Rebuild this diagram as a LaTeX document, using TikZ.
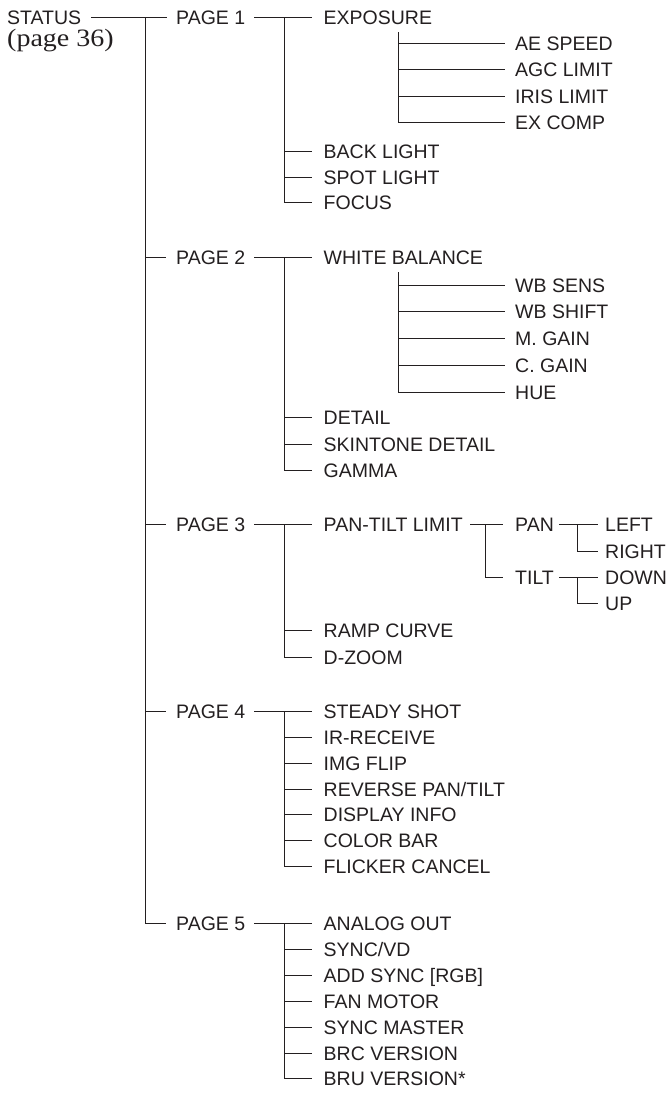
\documentclass[tikz,border=0pt]{standalone}
\usepackage{fontspec}
\setmainfont{Liberation Sans}
\newfontfamily\serifcap{Liberation Serif}
\definecolor{ink}{HTML}{231F20}
\begin{document}
\begin{tikzpicture}[x=1pt,y=-1pt,
  lbl/.style={anchor=west,inner sep=0pt,text height=14pt,text depth=0pt,
    text=ink,font=\fontsize{19.5}{19.5}\selectfont},
  conn/.style={line width=1pt,draw=ink}]
\useasboundingbox (0,0) rectangle (669,1099);
% ---------- nodes ----------
\node[lbl] (status) at (7,17.5) {STATUS};
\node[anchor=base west,inner sep=0pt,text height=17pt,text depth=5pt,text=ink,font=\serifcap\fontsize{25}{25}\selectfont] (pg) at (7,46.5) {\scalebox{1.12}[1]{(page 36)}};
\node[lbl] (p1) at (176,18) {PAGE 1};
\node[lbl] (p2) at (176,257) {PAGE 2};
\node[lbl] (p3) at (176,524.5) {PAGE 3};
\node[lbl] (p4) at (176,711.5) {PAGE 4};
\node[lbl] (p5) at (176,923.5) {PAGE 5};
% page 1
\node[lbl] (exp) at (323.5,18) {EXPOSURE};
\node[lbl] (ae) at (515,44) {AE SPEED};
\node[lbl] (agc) at (515,70) {AGC LIMIT};
\node[lbl] (iris) at (515,96.5) {IRIS LIMIT};
\node[lbl] (exc) at (515,123) {EX COMP};
\node[lbl] (bl) at (323.5,151.5) {BACK LIGHT};
\node[lbl] (sl) at (323.5,177.5) {SPOT LIGHT};
\node[lbl] (foc) at (323.5,203) {FOCUS};
% page 2
\node[lbl] (wb) at (323.5,257) {WHITE BALANCE};
\node[lbl] (wbs) at (515,285) {WB SENS};
\node[lbl] (wbsh) at (515,311) {WB SHIFT};
\node[lbl] (mg) at (515,338) {M. GAIN};
\node[lbl] (cg) at (515,365) {C. GAIN};
\node[lbl] (hue) at (515,392) {HUE};
\node[lbl] (det) at (323.5,417.5) {DETAIL};
\node[lbl] (skin) at (323.5,444) {SKINTONE DETAIL};
\node[lbl] (gam) at (323.5,470.5) {GAMMA};
% page 3
\node[lbl] (ptl) at (323.5,524.5) {PAN-TILT LIMIT};
\node[lbl] (pan) at (515,524.5) {PAN};
\node[lbl] (tilt) at (515,577.5) {TILT};
\node[lbl] (left) at (605,524.5) {LEFT};
\node[lbl] (right) at (605,551) {RIGHT};
\node[lbl] (down) at (605,577.5) {DOWN};
\node[lbl] (up) at (605,603.5) {UP};
\node[lbl] (ramp) at (323.5,630.5) {RAMP CURVE};
\node[lbl] (dz) at (323.5,657) {D-ZOOM};
% page 4
\node[lbl] (ss) at (323.5,711.5) {STEADY SHOT};
\node[lbl] (ir) at (323.5,737.3) {IR-RECEIVE};
\node[lbl] (img) at (323.5,763.2) {IMG FLIP};
\node[lbl] (rev) at (323.5,789) {REVERSE PAN/TILT};
\node[lbl] (disp) at (323.5,814.9) {DISPLAY INFO};
\node[lbl] (cb) at (323.5,840.7) {COLOR BAR};
\node[lbl] (fc) at (323.5,866.6) {FLICKER CANCEL};
% page 5
\node[lbl] (ao) at (323.5,923.5) {ANALOG OUT};
\node[lbl] (svd) at (323.5,949.4) {SYNC/VD};
\node[lbl] (ads) at (323.5,975.3) {ADD SYNC [RGB]};
\node[lbl] (fan) at (323.5,1001.2) {FAN MOTOR};
\node[lbl] (sm) at (323.5,1027.1) {SYNC MASTER};
\node[lbl] (brc) at (323.5,1053) {BRC VERSION};
\node[lbl] (bru) at (323.5,1078.9) {BRU VERSION*};
% ---------- junction columns ----------
\coordinate (vm) at (145,0);
\coordinate (vc) at (284,0);
\coordinate (vs) at (398,0);
\coordinate (vp) at (485,0);
\coordinate (vq) at (577,0);
% ---------- connectors ----------
% status -> pages
\draw[conn] ([xshift=10pt]status.east |- p1.west) -- ([xshift=-9pt]p1.west);
\draw[conn] (vm |- p1.west) -- (vm |- p5.west) -- ([xshift=-10pt]p5.west);
\foreach \p in {p2,p3,p4}{
  \draw[conn] (vm |- \p.west) -- ([xshift=-10pt]\p.west);
}
% pages -> first children
\foreach \p/\c in {p1/exp,p2/wb,p3/ptl,p4/ss,p5/ao}{
  \draw[conn] ([xshift=-30pt]vc |- \p.east) -- ([xshift=-12pt]\c.west);
}
% page verticals
\draw[conn] (vc |- exp.west) -- (vc |- foc.west) -- ([xshift=-12pt]foc.west);
\foreach \c in {bl,sl}{\draw[conn] (vc |- \c.west) -- ([xshift=-12pt]\c.west);}
\draw[conn] (vc |- wb.west) -- (vc |- gam.west) -- ([xshift=-12pt]gam.west);
\foreach \c in {det,skin}{\draw[conn] (vc |- \c.west) -- ([xshift=-12pt]\c.west);}
\draw[conn] (vc |- ptl.west) -- (vc |- dz.west) -- ([xshift=-12pt]dz.west);
\foreach \c in {ramp}{\draw[conn] (vc |- \c.west) -- ([xshift=-12pt]\c.west);}
\draw[conn] (vc |- ss.west) -- (vc |- fc.west) -- ([xshift=-12pt]fc.west);
\foreach \c in {ir,img,rev,disp,cb}{\draw[conn] (vc |- \c.west) -- ([xshift=-12pt]\c.west);}
\draw[conn] (vc |- ao.west) -- (vc |- bru.west) -- ([xshift=-12pt]bru.west);
\foreach \c in {svd,ads,fan,sm,brc}{\draw[conn] (vc |- \c.west) -- ([xshift=-12pt]\c.west);}
% exposure subs
\draw[conn] ([yshift=-7pt]vs |- exp.south) -- (vs |- exc.west) -- ([xshift=-10pt]exc.west);
\foreach \c in {ae,agc,iris}{\draw[conn] (vs |- \c.west) -- ([xshift=-10pt]\c.west);}
% white balance subs
\draw[conn] ([yshift=-8pt]vs |- wb.south) -- (vs |- hue.west) -- ([xshift=-10pt]hue.west);
\foreach \c in {wbs,wbsh,mg,cg}{\draw[conn] (vs |- \c.west) -- ([xshift=-10pt]\c.west);}
% pan-tilt limit
\draw[conn] ([xshift=-15pt]vp |- ptl.east) -- ([xshift=-12pt]pan.west);
\draw[conn] (vp |- pan.west) -- (vp |- tilt.west) -- ([xshift=-12pt]tilt.west);
% pan
\draw[conn] ([xshift=-18pt]vq |- pan.east) -- ([xshift=-7pt]left.west);
\draw[conn] (vq |- left.west) -- (vq |- right.west) -- ([xshift=-7pt]right.west);
% tilt
\draw[conn] ([xshift=-18pt]vq |- tilt.east) -- ([xshift=-7pt]down.west);
\draw[conn] (vq |- down.west) -- (vq |- up.west) -- ([xshift=-7pt]up.west);
\end{tikzpicture}
\end{document}
